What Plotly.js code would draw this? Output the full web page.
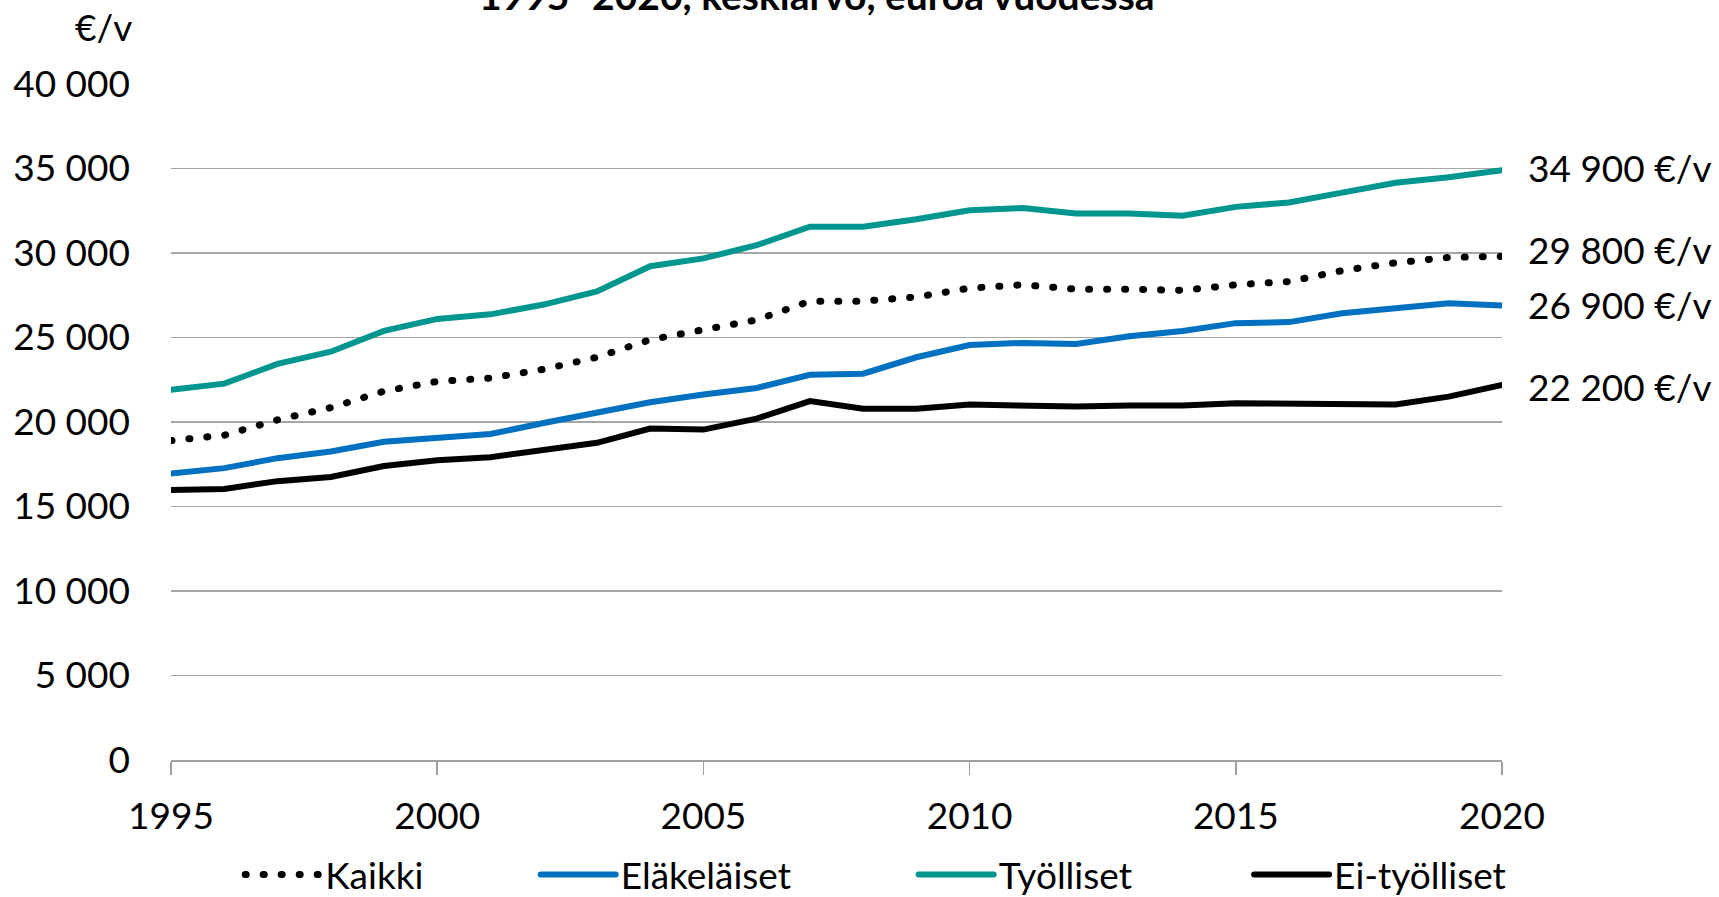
<!DOCTYPE html>
<html>
<head>
<meta charset="utf-8">
<script src="https://cdn.plot.ly/plotly-3.0.1.min.js"></script>
<style>
  html, body { margin: 0; padding: 0; background: #fff; }
  #chart { width: 1719px; height: 897px; }
  /* round dots for the dotted series */
  .js-line { stroke-linecap: round; }
</style>
</head>
<body>
<div id="chart"></div>
<script>
const years = [1995, 1996, 1997, 1998, 1999, 2000, 2001, 2002, 2003, 2004, 2005, 2006, 2007,
  2008, 2009, 2010, 2011, 2012, 2013, 2014, 2015, 2016, 2017, 2018, 2019, 2020];

const kaikki = [18900, 19220, 20130, 20850, 21820, 22400, 22600, 23120, 23830, 24870, 25460, 26040, 27150,
  27150, 27400, 27920, 28120, 27860, 27860, 27790, 28120, 28310, 28960, 29420, 29740, 29800];
const elakelaiset = [16950, 17270, 17860, 18250, 18830, 19030, 19290, 19940, 20590, 21170, 21630, 22010, 22790,
  22860, 23830, 24550, 24680, 24610, 25070, 25390, 25850, 25910, 26430, 26690, 27020, 26900];
const tyolliset = [21900, 22270, 23440, 24160, 25390, 26100, 26370, 26950, 27730, 29220, 29680, 30460, 31560,
  31560, 32000, 32530, 32660, 32340, 32340, 32210, 32730, 32990, 33570, 34160, 34480, 34900];
const eiTyolliset = [15980, 16040, 16500, 16750, 17400, 17730, 17920, 18310, 18770, 19610, 19550, 20200, 21240,
  20780, 20780, 21040, 20980, 20910, 20980, 20980, 21110, 21110, 21110, 21040, 21500, 22200];

const seriesNames = ['Kaikki', 'Eläkeläiset', 'Työlliset', 'Ei-työlliset'];
const endLabels = ['29 800 €/v', '26 900 €/v', '34 900 €/v', '22 200 €/v'];
const titleText = '1995–2020, keskiarvo, euroa vuodessa¹';
const unitText = '€/v';

const FONT = 'Lato, "Open Sans", sans-serif';
const colors = ['#000000', '#0070c0', '#009690', '#000000'];
const dashes = ['1px,17px', 'solid', 'solid', 'solid'];
const widths = [7, 6, 6, 6];
const allSeries = [kaikki, elakelaiset, tyolliset, eiTyolliset];
const legendX = [0.052, 0.274, 0.558, 0.810];
const labelShift = [7, 1, 3, -2];

const data = allSeries.map((vals, i) => ({
  x: years,
  y: vals,
  name: seriesNames[i],
  type: 'scatter',
  mode: 'lines',
  line: { color: colors[i], width: widths[i], dash: dashes[i] },
  legend: i === 0 ? 'legend' : 'legend' + (i + 1),
  hoverinfo: 'x+y+name'
}));

const legendBox = (x) => ({
  orientation: 'h',
  x: x,
  xanchor: 'left',
  y: -0.17,
  yanchor: 'middle',
  itemwidth: 75,
  bgcolor: 'rgba(0,0,0,0)',
  font: { family: FONT, size: 37, color: '#000' }
});

const annotations = allSeries.map((vals, i) => ({
  x: years[years.length - 1],
  y: vals[vals.length - 1],
  xref: 'x',
  yref: 'y',
  text: endLabels[i],
  showarrow: false,
  xanchor: 'left',
  yanchor: 'middle',
  xshift: 24,
  yshift: labelShift[i],
  font: { family: FONT, size: 37, color: '#000' }
}));

annotations.push({
  x: 0.49, y: 1.131, xref: 'paper', yref: 'paper',
  text: '<b>' + titleText + '</b>',
  showarrow: false, xanchor: 'center', yanchor: 'middle',
  font: { family: FONT, size: 39, color: '#000' }
});
annotations.push({
  x: -0.028, y: 1.085, xref: 'paper', yref: 'paper',
  text: unitText,
  showarrow: false, xanchor: 'right', yanchor: 'middle',
  font: { family: FONT, size: 37, color: '#000' }
});

const layout = {
  width: 1719,
  height: 897,
  margin: { l: 171, r: 217, t: 84, b: 137, autoexpand: false },
  paper_bgcolor: '#ffffff',
  plot_bgcolor: '#ffffff',
  separators: ', ',
  font: { family: FONT, size: 37, color: '#000' },
  showlegend: true,
  legend: legendBox(legendX[0]),
  legend2: legendBox(legendX[1]),
  legend3: legendBox(legendX[2]),
  legend4: legendBox(legendX[3]),
  xaxis: {
    range: [1995, 2020],
    tick0: 1995,
    dtick: 5,
    showgrid: false,
    zeroline: false,
    showline: true,
    linecolor: '#a0a0a0',
    linewidth: 1.5,
    ticks: 'outside',
    ticklen: 13,
    tickwidth: 1.5,
    tickcolor: '#a0a0a0',
    ticklabelstandoff: 10,
    tickfont: { family: FONT, size: 37, color: '#000' }
  },
  yaxis: {
    range: [0, 40000],
    dtick: 5000,
    tickformat: ',d',
    showgrid: true,
    gridcolor: '#a6a6a6',
    gridwidth: 1.5,
    zeroline: false,
    showline: false,
    ticks: '',
    ticklabelstandoff: 40,
    tickfont: { family: FONT, size: 37, color: '#000' }
  },
  annotations: annotations
};

Plotly.newPlot('chart', data, layout, { displayModeBar: false, staticPlot: true });
</script>
</body>
</html>
